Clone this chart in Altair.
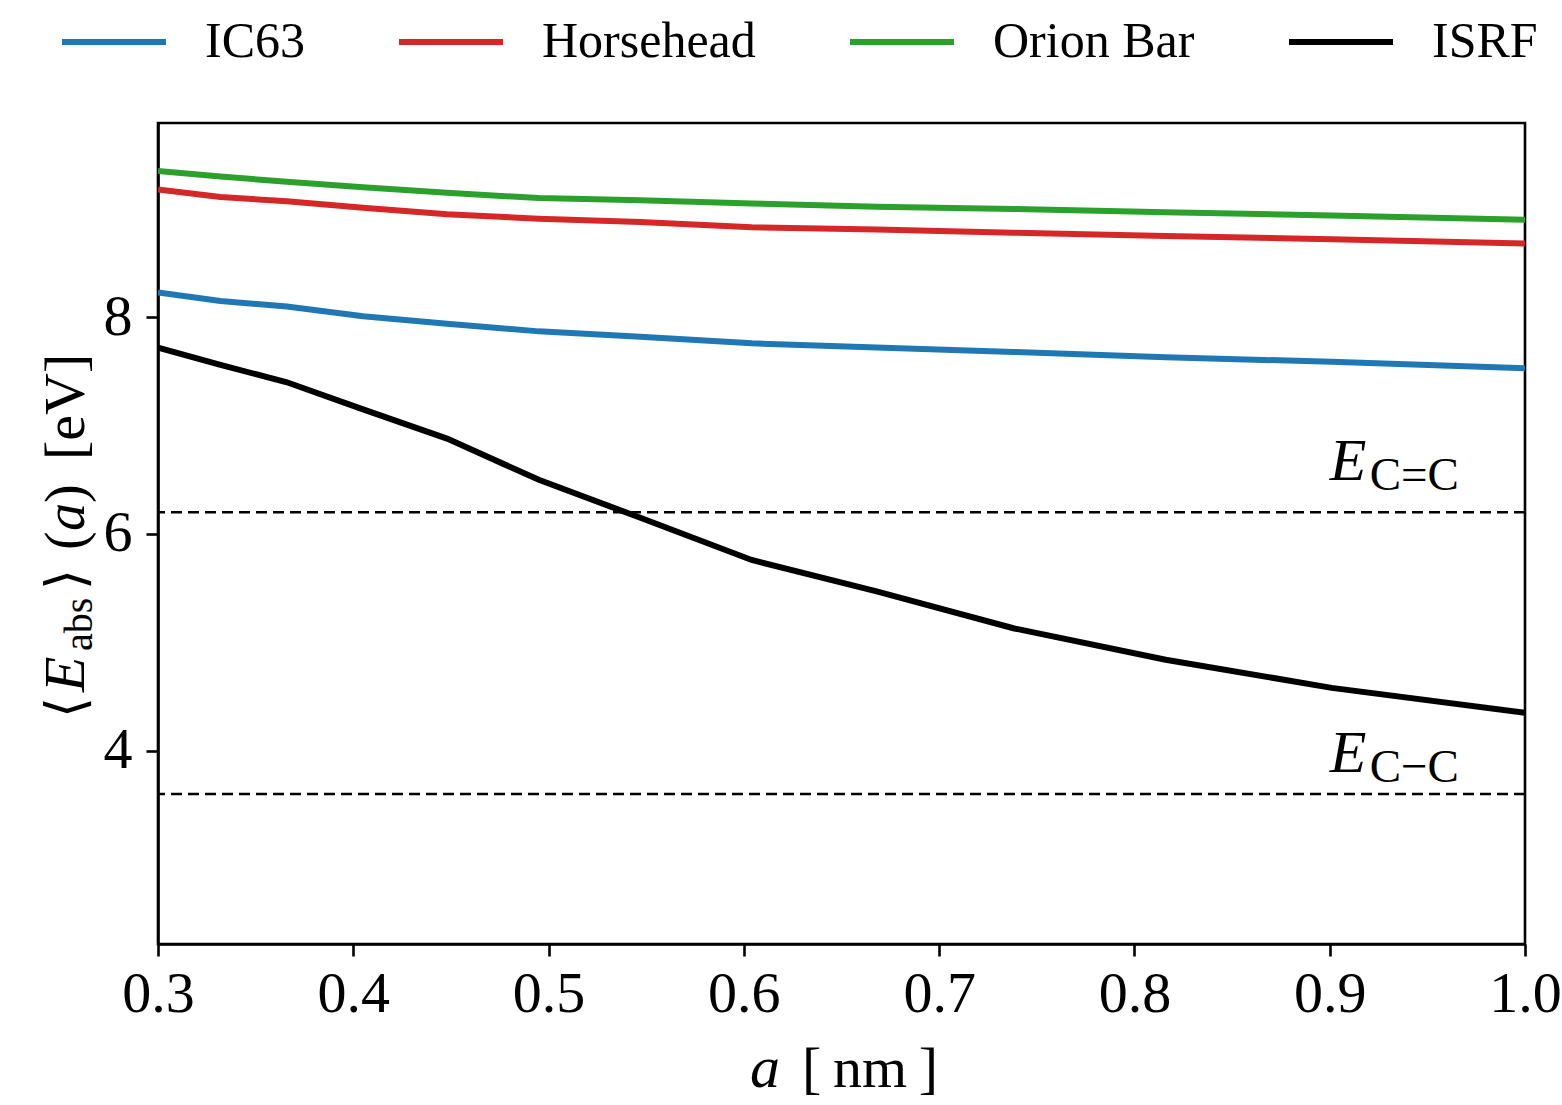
import altair as alt
import pandas as pd

# ---------------- data ----------------
a_nm = [0.300, 0.332, 0.366, 0.405, 0.448, 0.495, 0.547, 0.604, 0.668, 0.738, 0.816, 0.901, 1.000]
ic63 = [8.23, 8.15, 8.10, 8.01, 7.94, 7.87, 7.82, 7.76, 7.72, 7.68, 7.63, 7.59, 7.53]
horsehead = [9.18, 9.11, 9.07, 9.01, 8.95, 8.91, 8.88, 8.83, 8.81, 8.78, 8.75, 8.72, 8.68]
orion_bar = [9.35, 9.30, 9.25, 9.20, 9.15, 9.10, 9.08, 9.05, 9.02, 9.00, 8.97, 8.94, 8.90]
isrf = [7.72, 7.56, 7.40, 7.15, 6.88, 6.50, 6.15, 5.76, 5.47, 5.13, 4.84, 4.58, 4.35]

series_names = ["IC63", "Horsehead", "Orion Bar", "ISRF"]
series_colors = ["#1f77b4", "#d62728", "#2ca02c", "#000000"]

bond_energy = [6.2, 3.6]
bond_sub = ["C=C", "C\u2212C"]
bond_label_a = [0.9, 0.9]
bond_label_E = [6.5, 3.8]

x_ticks = [0.3, 0.4, 0.5, 0.6, 0.7, 0.8, 0.9, 1.0]
y_ticks = [4, 6, 8]
x_domain = [0.3, 1.0]
y_domain = [2.216, 9.793]

# ---------------- tables ----------------
rows = []
for name, vals in zip(series_names, [ic63, horsehead, orion_bar, isrf]):
    for i, (a, e) in enumerate(zip(a_nm, vals)):
        rows.append({"series": name, "a": a, "E": e, "i": i})
df = pd.DataFrame(rows)
df_rule = pd.DataFrame({"E": bond_energy})
df_ann = pd.DataFrame({"a": bond_label_a, "E": bond_label_E, "sub": bond_sub, "main": ["E", "E"]})

FONT = "Liberation Serif, DejaVu Serif, serif"

x_scale = alt.Scale(domain=x_domain, nice=False, zero=False)
y_scale = alt.Scale(domain=y_domain, nice=False, zero=False)
axis_style = dict(
    title=None, grid=False,
    domainColor="black", domainWidth=2.6,
    tickColor="black", tickWidth=2.6, tickSize=12,
    labelFont=FONT, labelFontSize=58, labelColor="black",
)
x_axis = alt.Axis(values=x_ticks, format=".1f", labelFlush=False, labelPadding=9, **axis_style)
y_axis = alt.Axis(values=y_ticks, format="d", labelPadding=14, **axis_style)
x_enc = alt.X("a:Q", scale=x_scale, axis=x_axis)
y_enc = alt.Y("E:Q", scale=y_scale, axis=y_axis)

lines = alt.Chart(df).mark_line(strokeWidth=6, strokeCap="butt", clip=True).encode(
    x=x_enc,
    y=y_enc,
    color=alt.Color(
        "series:N",
        scale=alt.Scale(domain=series_names, range=series_colors),
        sort=series_names,
        legend=alt.Legend(
            title=None,
            orient="none",
            legendX=-99,
            legendY=-136,
            direction="horizontal",
            symbolType="stroke",
            symbolSize=10816,
            symbolStrokeWidth=6,
            labelFont=FONT,
            labelFontSize=50,
            labelColor="black",
            labelLimit=0,
            labelOffset=36,
            columnPadding=82,
            padding=0,
        ),
    ),
    order="i:Q",
)

rules = alt.Chart(df_rule).mark_rule(color="black", strokeWidth=2.5, strokeDash=[11, 6]).encode(
    y=y_enc
)

ann_main = alt.Chart(df_ann).mark_text(
    font=FONT, fontSize=60, fontStyle="italic", align="left", baseline="alphabetic", color="black"
).encode(x=x_enc, y=y_enc, text="main:N")

ann_sub = alt.Chart(df_ann).mark_text(
    font=FONT, fontSize=47, align="left", baseline="alphabetic", color="black", dx=40, dy=10
).encode(x=x_enc, y=y_enc, text="sub:N")


def label(text, x, y, size, italic=False, angle=0):
    return alt.Chart(alt.Data(values=[{"t": text}])).mark_text(
        font=FONT,
        fontSize=size,
        fontStyle="italic" if italic else "normal",
        align="left",
        baseline="alphabetic",
        angle=angle,
        color="black",
    ).encode(x=alt.value(x), y=alt.value(y), text="t:N")


# y-axis title  <E_abs>(a) [eV]  (rotated, read bottom to top)
ytitle = [
    label("\u27e8", -74, 595, 54, angle=270),
    label("E", -74, 569, 58, italic=True, angle=270),
    label("abs", -66, 528, 40, angle=270),
    label("\u27e9", -74, 467, 54, angle=270),
    label("(", -74, 427, 56, angle=270),
    label("a", -74, 408, 56, italic=True, angle=270),
    label(")", -74, 380, 56, angle=270),
    label("[eV]", -74, 337, 58, angle=270),
]

# x-axis title  a [nm]
xtitle = [
    label("a", 592, 964, 60, italic=True),
    label("[\u2009nm\u2009]", 644, 964, 58),
]

chart = alt.layer(lines, rules, ann_main, ann_sub, *ytitle, *xtitle).properties(
    width=1367,
    height=821,
    background="white",
    autosize=alt.AutoSizeParams(type="none"),
    padding={"left": 158, "top": 123, "right": 37, "bottom": 161},
).configure_view(
    stroke="black", strokeWidth=2.6
)

chart.save("out.html", embed_options={"renderer": "svg", "actions": False})
